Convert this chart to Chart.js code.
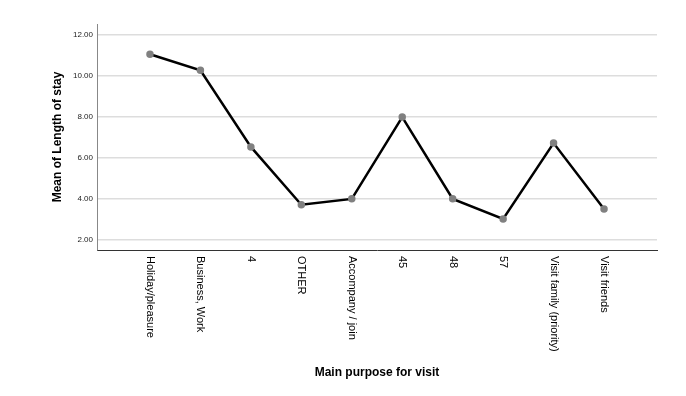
<!DOCTYPE html>
<html>
<head>
<meta charset="utf-8">
<script src="https://cdn.jsdelivr.net/npm/chart.js@4/dist/chart.umd.min.js"></script>
<style>
  html, body { margin: 0; padding: 0; background: #fff; }
  #wrap { width: 686px; height: 396px; }
</style>
</head>
<body>
<div id="wrap"><canvas id="lineChart" width="686" height="396"></canvas></div>
<script>
// категории и средние значения
const categories = ['Holiday/pleasure', 'Business, Work', '4', 'OTHER', 'Accompany / join',
                    '45', '48', '57', 'Visit family (priority)', 'Visit friends'];
const meanStay = [11.07, 10.29, 6.54, 3.71, 4.00, 8.00, 4.00, 3.02, 6.73, 3.51];
const yTicks = [2, 4, 6, 8, 10, 12];

const FONT = '"Liberation Sans", Arial, sans-serif';

// подписи категорий и заголовки осей рисуем сами (поворот по часовой)
const labelPlugin = {
    id: 'spssLabels',
    afterDraw(chart) {
        const ctx = chart.ctx;
        const xs = chart.scales.x;
        const area = chart.chartArea;
        ctx.save();
        ctx.fillStyle = '#000';
        ctx.font = '11px ' + FONT;
        ctx.textAlign = 'left';
        ctx.textBaseline = 'middle';
        categories.forEach((c, i) => {
            const px = xs.getPixelForValue(i);
            ctx.save();
            ctx.translate(px, area.bottom + 6);
            ctx.rotate(Math.PI / 2);
            ctx.fillText(c, 0, 0);
            ctx.restore();
        });
        ctx.font = 'bold 12px ' + FONT;
        ctx.textAlign = 'center';
        ctx.fillText('Main purpose for visit', (area.left + area.right) / 2, 373);
        ctx.save();
        ctx.translate(58, (area.top + area.bottom) / 2);
        ctx.rotate(-Math.PI / 2);
        ctx.fillText('Mean of Length of stay', 0, 0);
        ctx.restore();
        ctx.restore();
    }
};

const ctx = document.getElementById('lineChart').getContext('2d');
new Chart(ctx, {
    type: 'line',
    data: {
        datasets: [{
            data: meanStay.map((v, i) => ({ x: i, y: v })),
            borderColor: '#000',
            borderWidth: 2.5,
            pointBackgroundColor: '#808080',
            pointBorderColor: '#808080',
            pointRadius: 2.5,
            tension: 0
        }]
    },
    options: {
        responsive: false,
        animation: false,
        layout: { padding: { top: 24, right: 29, left: 0, bottom: 0 } },
        plugins: { legend: { display: false }, tooltip: { enabled: false } },
        scales: {
            x: {
                type: 'linear',
                min: -1.05,
                max: categories.length - 1 + 1.05,
                grid: { display: false },
                border: { display: true, color: '#333', width: 1 },
                ticks: { display: false },
                afterFit(scale) { scale.height = 146; }
            },
            y: {
                min: 1.5,
                max: 12.55,
                afterBuildTicks(scale) { scale.ticks = yTicks.map(v => ({ value: v })); },
                grid: { color: '#dddddd', lineWidth: 1.5, drawTicks: false },
                border: { display: true, color: '#888', width: 1 },
                ticks: {
                    color: '#222',
                    font: { size: 8, family: FONT },
                    padding: 4,
                    callback: v => v.toFixed(2)
                },
                afterFit(scale) { scale.width = 97; }
            }
        }
    },
    plugins: [labelPlugin]
});
</script>
</body>
</html>
